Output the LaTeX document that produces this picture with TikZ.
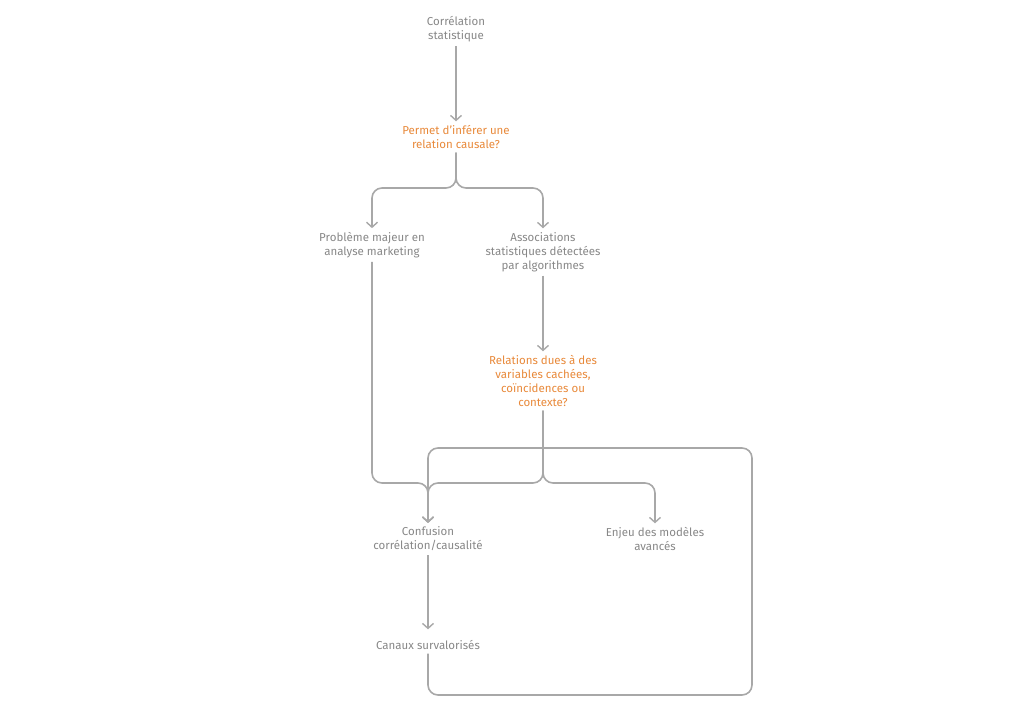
\documentclass[tikz,border=0pt]{standalone}
\usepackage{fontspec}
\setmainfont{Fira Sans}
\usetikzlibrary{arrows.meta}
\definecolor{txtgray}{RGB}{135,135,135}
\definecolor{lngray}{RGB}{168,168,168}
\definecolor{qorange}{RGB}{232,137,58}
\begin{document}
\begin{tikzpicture}[x=1pt,y=-1pt,
  lbl/.style={align=center,text=txtgray,font=\fontsize{11.5}{14}\selectfont,inner sep=3pt,outer sep=1pt},
  qlbl/.style={lbl,text=qorange},
  arr/.style={draw=lngray,line width=1.6pt,rounded corners=10pt,-{Straight Barb[length=5pt,width=11pt,line width=1.4pt]}}]
\useasboundingbox (0,0) rectangle (1016,708);
\node[lbl] (corr) at (456,29) {Corrélation\\statistique};
\node[qlbl] (permet) at (456,137) {Permet d'inférer une\\relation causale?};
\node[lbl] (prob) at (372,245) {Problème majeur en\\analyse marketing};
\node[lbl] (assoc) at (543,252) {Associations\\statistiques détectées\\par algorithmes};
\node[qlbl] (rel) at (543,381) {Relations dues à des\\variables cachées,\\coïncidences ou\\contexte?};
\node[lbl] (conf) at (428,539) {Confusion\\corrélation/causalité};
\node[lbl] (enjeu) at (655,539) {Enjeu des modèles\\avancés};
\node[lbl] (canaux) at (428,645) {Canaux survalorisés};
\coordinate (b1) at (456,188);
\coordinate (b2) at (543,483);
\coordinate (b3) at (428,483);
\coordinate (lp1) at (752,695);
\coordinate (lp2) at (752,448);
\draw[arr] (corr) -- (permet);
\draw[arr] (permet) -- (b1) -| (prob);
\draw[arr] (permet) -- (b1) -| (assoc);
\draw[arr] (assoc) -- (rel);
\draw[arr] (rel) -- (b2) -| (conf);
\draw[arr] (rel) -- (b2) -| (enjeu);
\draw[arr] (prob) |- (b3) -- (conf);
\draw[arr,shorten >=7pt] (conf) -- (canaux);
\draw[arr] (canaux) |- (lp1) -- (lp2) -| (conf);
\end{tikzpicture}
\end{document}
